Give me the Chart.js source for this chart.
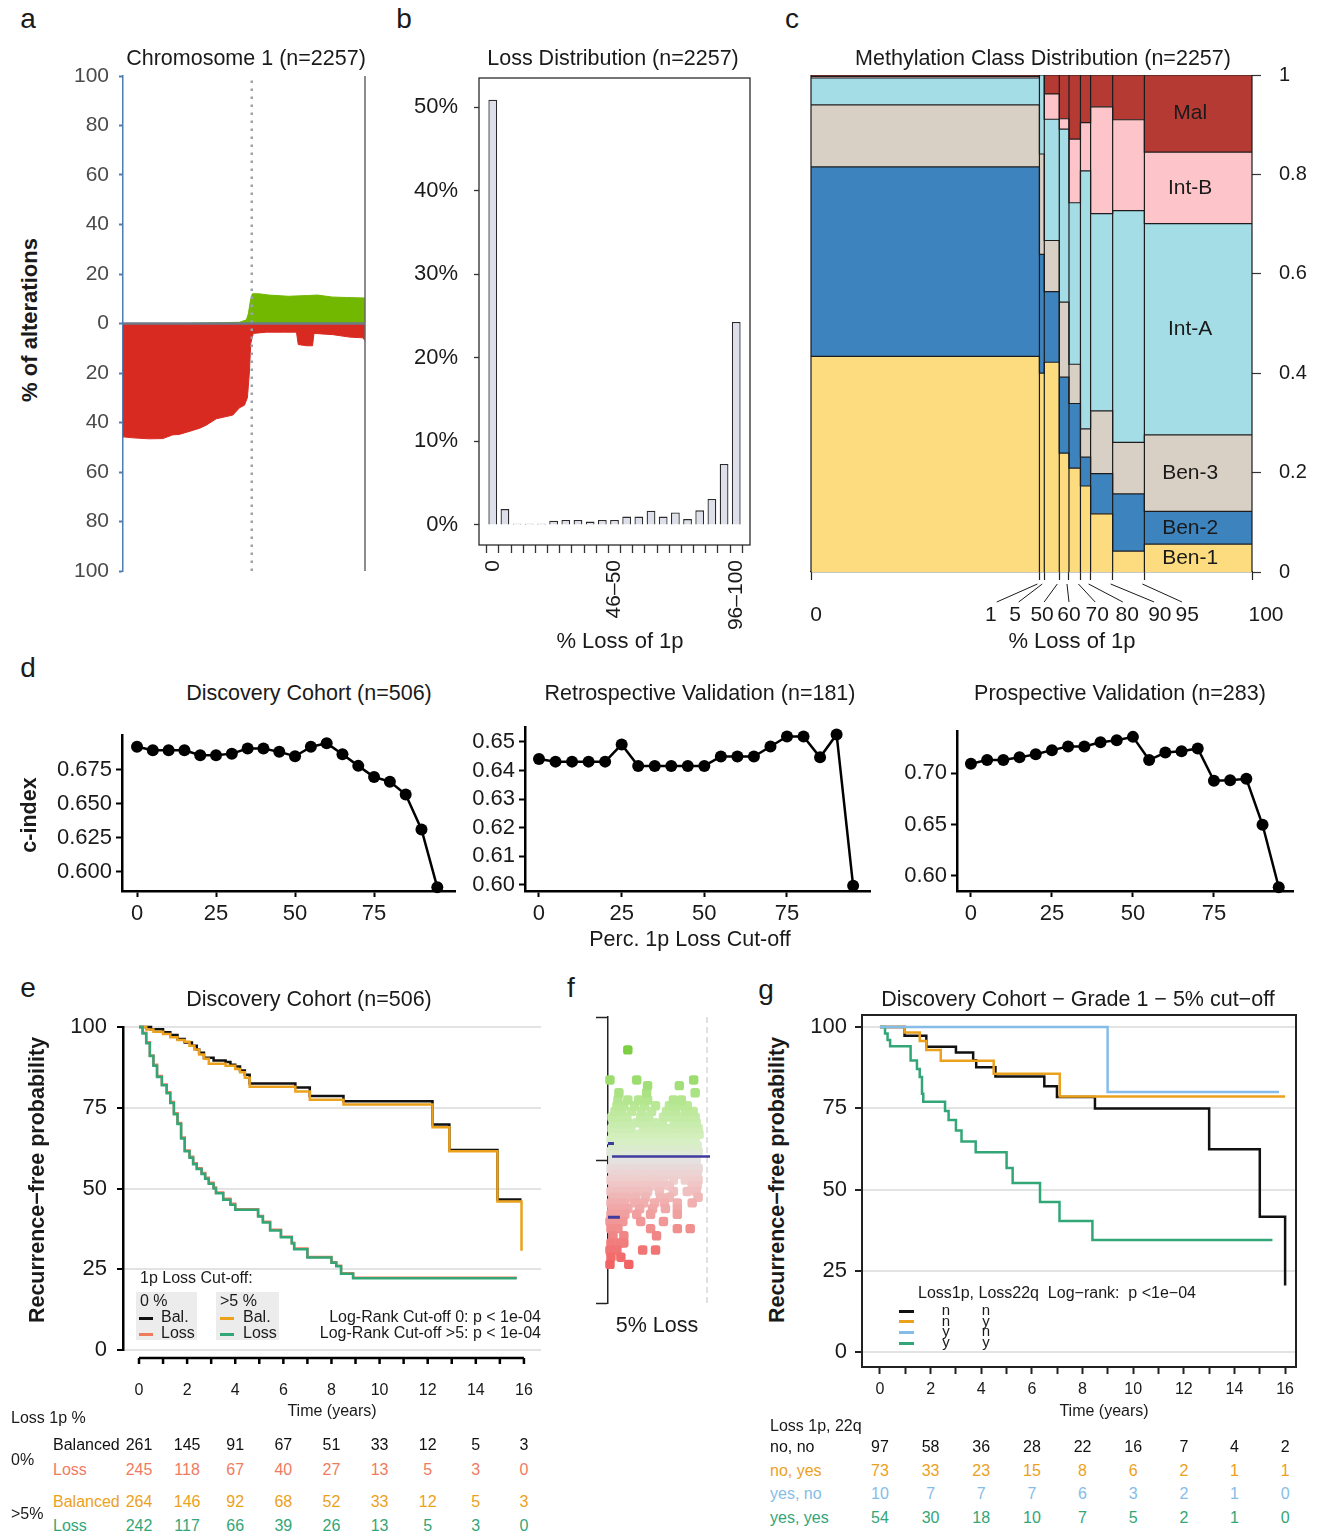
<!DOCTYPE html>
<html>
<head>
<meta charset="utf-8">
<script src="https://cdn.jsdelivr.net/npm/chart.js@4/dist/chart.umd.min.js"></script>
<style>
html, body { margin: 0; padding: 0; background: #fff; }
#fig { position: relative; width: 1322px; height: 1539px; overflow: hidden; background: #fff;
       font-family: "Liberation Sans", Arial, Helvetica, sans-serif; color: #1a1a1a; }
#fig canvas { position: absolute; }
.tx { position: absolute; white-space: pre; line-height: 1; }
.key { position: absolute; height: 3px; }
.shade { position: absolute; background: #ececec; }
</style>
</head>
<body>
<div id="fig"></div>
<script>
// ---- a: chromosome 1 alterations (% of samples), position in Mb
const chrLength = 249;
const centromere = 132.5;
const lossPos = [0, 10, 27, 41, 51, 58, 69, 79, 86, 96, 113, 120, 125, 128, 130, 131.5, 134, 148, 165, 178.5, 180.3, 189, 195, 196.5, 216, 233, 247, 249];
const lossPct = [45.8, 46.2, 46.6, 46.5, 45, 44.8, 43.5, 42.3, 41, 38.5, 37, 34, 33, 30, 20, 8, 4, 3.5, 3.5, 3.5, 8.5, 9, 9, 4, 4.5, 5.5, 5.8, 7];
const gainPos = [0, 60, 95, 120, 127, 129, 131, 133, 140, 150, 170, 190, 200, 215, 230, 249];
const gainPct = [0, 0, 0.3, 0.5, 1.5, 4, 9, 12, 12, 11.5, 11, 11.3, 11.5, 10.7, 10.5, 10.3];

// ---- b: loss distribution
const lossBins = ['0', '1–5', '6–10', '11–15', '16–20', '21–25', '26–30', '31–35', '36–40', '41–45', '46–50',
                  '51–55', '56–60', '61–65', '66–70', '71–75', '76–80', '81–85', '86–90', '91–95', '96–100'];
const lossShare = [50.9, 1.9, 0.15, 0.15, 0.15, 0.5, 0.6, 0.6, 0.4, 0.6, 0.6, 1.0, 1.0, 1.7, 1.0, 1.5, 0.7, 1.75, 3.1, 7.3, 24.3];

// ---- c: methylation class mosaic
const colShare = [51.8, 1.1, 3.4, 2.2, 2.6, 2.3, 5.0, 7.2, 24.4];
const cutLabels = ['1', '5', '50', '60', '70', '80', '90', '95'];
const classNames = ['Ben-1', 'Ben-2', 'Ben-3', 'Int-A', 'Int-B', 'Mal'];
const ben1 = [.434, .400, .422, .239, .209, .173, .117, .042, .056];
const ben2 = [.381, .239, .142, .153, .130, .058, .081, .115, .066];
const ben3 = [.125, .202, .103, .151, .079, .057, .126, .104, .154];
const intA = [.054, .159, .244, .348, .325, .519, .397, .466, .425];
const intB = [.003, 0, .051, .021, .128, .097, .215, .183, .144];
const mal  = [.003, 0, .038, .088, .129, .096, .064, .090, .155];

// ---- d: c-index by cut-off
const cutoffs = [0, 5, 10, 15, 20, 25, 30, 35, 40, 45, 50, 55, 60, 65, 70, 75, 80, 85, 90, 95];
const cDiscovery = [0.692, 0.6895, 0.6895, 0.6895, 0.6858, 0.6858, 0.687, 0.6907, 0.6907, 0.6883, 0.6851, 0.692, 0.6947, 0.6866, 0.678, 0.6698, 0.6664, 0.657, 0.6312, 0.5887];
const cRetro = [0.644, 0.6431, 0.6431, 0.6431, 0.6431, 0.6491, 0.6416, 0.6416, 0.6416, 0.6416, 0.6416, 0.6449, 0.6449, 0.6449, 0.6484, 0.6519, 0.6519, 0.6446, 0.6526, 0.5997];
const cProsp = [0.709, 0.7126, 0.7126, 0.7152, 0.7182, 0.7222, 0.7258, 0.7258, 0.7298, 0.7318, 0.7351, 0.7126, 0.7199, 0.7212, 0.7238, 0.6924, 0.693, 0.6944, 0.6497, 0.5891];

// ---- e: Kaplan-Meier, discovery cohort [years, %]
const eBal0 = [[0,100],[0.5,99.3],[1.0,98.4],[1.3,97.5],[1.6,96.3],[1.9,95.2],[2.2,94.2],[2.4,93],[2.5,92],[2.7,90.5],[3.1,89.6],[3.6,89.2],[3.8,88.3],[4.0,87.8],[4.2,86.5],[4.4,85.2],[4.6,82.5],[6.5,81.3],[7.1,78.6],[8.5,77],[12.2,69.8],[12.9,61.9],[14.9,46.6],[15.9,46.6]];
const eBal5 = [[0,100],[0.3,99.2],[0.6,98.5],[1.0,97.8],[1.3,96.8],[1.6,96],[1.9,95.4],[2.1,94.2],[2.3,93],[2.5,91.5],[2.7,90.2],[2.9,88.6],[3.6,88],[4.0,87],[4.2,86],[4.4,84.3],[4.6,81.5],[6.5,80],[7.1,77.5],[8.5,76],[12.2,69],[12.9,61.5],[14.9,46],[15.9,30.7]];
const eLoss0 = [[0,100],[0.15,98.2],[0.3,95.3],[0.45,91.2],[0.6,88.3],[0.75,84.8],[0.95,82.2],[1.15,79.8],[1.3,76.8],[1.45,73.3],[1.6,70.3],[1.75,65.8],[1.9,61.8],[2.1,59.8],[2.25,57.8],[2.4,56.3],[2.6,54.8],[2.75,53.3],[2.9,51.8],[3.1,50.3],[3.2,48.8],[3.5,46.8],[3.8,45.3],[4.0,43.6],[4.95,41.5],[5.15,39.7],[5.45,37.2],[5.9,35.1],[6.35,33.2],[6.45,31.4],[7.0,28.8],[8.0,27.2],[8.2,26.1],[8.4,23.8],[8.9,22.4],[15.7,22.4]];
const eLoss5 = [[0,100],[0.15,98],[0.3,95],[0.45,91],[0.6,88],[0.75,84.5],[0.95,82],[1.15,79.5],[1.3,76.5],[1.45,73],[1.6,70],[1.75,65.5],[1.9,61.5],[2.1,59.5],[2.25,57.5],[2.4,56],[2.6,54.5],[2.75,53],[2.9,51.5],[3.1,50],[3.2,48.5],[3.5,46.5],[3.8,45],[4.0,43.4],[4.95,41.3],[5.15,39.5],[5.45,37],[5.9,34.9],[6.35,33],[6.45,31.2],[7.0,28.6],[8.0,27],[8.2,25.9],[8.4,23.6],[8.9,22.2],[15.7,22.2]];
const riskTimes = [0, 2, 4, 6, 8, 10, 12, 14, 16];
const eRiskBal0 = [261, 145, 91, 67, 51, 33, 12, 5, 3];
const eRiskLoss0 = [245, 118, 67, 40, 27, 13, 5, 3, 0];
const eRiskBal5 = [264, 146, 92, 68, 52, 33, 12, 5, 3];
const eRiskLoss5 = [242, 117, 66, 39, 26, 13, 5, 3, 0];

// ---- f: 5% loss cloud, rows of [y, x...]
const fCloud = [
  [0.02, 0.05,0.11,0.18,0.24,0.31,0.37,0.44,0.50,0.57,0.63,0.70,0.76,0.83,0.89],
  [0.06, 0.03,0.09,0.15,0.22,0.28,0.35,0.41,0.48,0.54,0.61,0.67,0.74,0.80,0.87,0.91],
  [0.10, 0.05,0.12,0.18,0.25,0.31,0.38,0.44,0.51,0.58,0.64,0.70,0.77,0.84,0.90],
  [0.14, 0.03,0.08,0.15,0.21,0.28,0.35,0.42,0.48,0.55,0.61,0.68,0.74,0.81,0.88],
  [0.18, 0.05,0.11,0.18,0.25,0.32,0.39,0.46,0.53,0.60,0.66,0.72,0.79,0.86,0.92],
  [0.22, 0.04,0.10,0.17,0.23,0.36,0.43,0.51,0.58,0.65,0.71,0.77,0.85,0.91],
  [0.26, 0.06,0.13,0.20,0.29,0.38,0.47,0.55,0.67,0.74,0.82,0.89],
  [0.30, 0.04,0.11,0.19,0.33,0.41,0.56,0.63,0.72,0.80,0.88],
  [0.34, 0.07,0.14,0.24,0.34,0.44,0.59,0.68,0.78,0.86],
  [0.38, 0.09,0.16,0.27,0.37,0.48,0.62,0.71,0.80],
  [0.42, 0.10,0.20,0.31,0.40,0.66,0.74],
  [0.47, 0.11,0.39,0.88],
  [0.52, 0.40,0.72],
  [0.56, 0.02,0.29,0.865],
  [0.77, 0.20],
  [-0.02, 0.05,0.11,0.18,0.24,0.31,0.37,0.44,0.50,0.57,0.63,0.70,0.76,0.83,0.89],
  [-0.06, 0.03,0.09,0.15,0.22,0.28,0.35,0.41,0.48,0.54,0.61,0.67,0.74,0.80,0.87,0.91],
  [-0.10, 0.05,0.12,0.18,0.25,0.31,0.38,0.44,0.51,0.58,0.64,0.70,0.77,0.84,0.90],
  [-0.14, 0.03,0.08,0.15,0.21,0.28,0.35,0.42,0.48,0.56,0.66,0.78,0.86,0.91],
  [-0.18, 0.05,0.11,0.18,0.25,0.32,0.39,0.46,0.53,0.62,0.85,0.90],
  [-0.22, 0.03,0.10,0.17,0.24,0.31,0.40,0.52,0.66,0.80,0.89],
  [-0.26, 0.05,0.12,0.19,0.28,0.38,0.53,0.62,0.91],
  [-0.30, 0.03,0.10,0.17,0.27,0.36,0.47,0.57,0.70,0.85],
  [-0.34, 0.04,0.11,0.20,0.32,0.45,0.58,0.70],
  [-0.38, 0.03,0.09,0.17,0.29,0.43,0.70],
  [-0.43, 0.02,0.08,0.15,0.33,0.56],
  [-0.48, 0.03,0.10,0.43,0.70,0.83],
  [-0.53, 0.05,0.16,0.49],
  [-0.58, 0.03,0.12,0.16],
  [-0.63, 0.02,0.09,0.35,0.48],
  [-0.68, 0.03,0.13],
  [-0.73, 0.02,0.21]
];
const fMedian = 0.025;

// ---- g: Kaplan-Meier, grade 1 [years, %]
const gNN = [[0,100],[0.97,97.3],[1.83,93.9],[3.0,92.2],[3.68,89.8],[3.8,87.6],[4.56,84.8],[6.49,81.8],[6.99,78.5],[8.49,74.9],[13.0,62.4],[15.0,41.6],[16.0,20.5]];
const gNY = [[0,100],[0.97,98.3],[1.57,95.7],[1.83,92.9],[2.4,89.6],[4.49,85.6],[7.1,78.6],[16.0,78.6]];
const gYN = [[0,100],[8.99,80],[15.76,80]];
const gYY = [[0,100],[0.2,98],[0.3,96],[0.4,94.1],[1.21,89.7],[1.46,87.1],[1.57,84.6],[1.66,79.5],[1.71,77],[2.57,74.2],[2.71,71.4],[3.0,68.2],[3.22,64.8],[3.78,61.5],[5.0,56.6],[5.24,52],[6.32,46.2],[7.09,40.3],[8.39,34.5],[15.5,34.5]];
const gRiskNN = [97, 58, 36, 28, 22, 16, 7, 4, 2];
const gRiskNY = [73, 33, 23, 15, 8, 6, 2, 1, 1];
const gRiskYN = [10, 7, 7, 7, 6, 3, 2, 1, 0];
const gRiskYY = [54, 30, 18, 10, 7, 5, 2, 1, 0];

// ---------------------------------------------------------------
const root = document.getElementById('fig');
const FONT = '"Liberation Sans", Arial, Helvetica, sans-serif';
Chart.defaults.font.family = FONT;
Chart.defaults.color = '#1a1a1a';
Chart.defaults.animation = false;
Chart.defaults.responsive = false;
Chart.defaults.events = [];
Chart.defaults.plugins.legend.display = false;
Chart.defaults.plugins.tooltip.enabled = false;

const BLACK = '#111111', SALMON = '#ef7b5f', ORANGE = '#eca11c', GREEN = '#33a677', BLUE = '#86bde8';
const classColors = ['#fddc7f', '#3d83be', '#d9d0c5', '#a5dde7', '#fdc4c9', '#b53a34'];

function canvasAt(x, y, w, h) {
  const c = document.createElement('canvas');
  c.width = w; c.height = h;
  c.style.left = x + 'px'; c.style.top = y + 'px';
  root.appendChild(c);
  return c;
}
function txt(s, x, y, o = {}) {
  const d = document.createElement('div');
  d.className = 'tx';
  d.textContent = s;
  d.style.left = x + 'px';
  d.style.top = y + 'px';
  d.style.fontSize = (o.size || 21.5) + 'px';
  d.style.color = o.color || '#1a1a1a';
  if (o.bold) d.style.fontWeight = 'bold';
  const ax = o.align === 'left' ? '0' : o.align === 'right' ? '-100%' : '-50%';
  d.style.transform = `translate(${ax},-50%)` + (o.rot ? ` rotate(${o.rot}deg)` : '');
  root.appendChild(d);
}
function key(x, y, w, color) {
  const d = document.createElement('div');
  d.className = 'key';
  d.style.left = x + 'px'; d.style.top = (y - 1.5) + 'px';
  d.style.width = w + 'px'; d.style.background = color;
  root.appendChild(d);
}
function shade(x, y, w, h) {
  const d = document.createElement('div');
  d.className = 'shade';
  d.style.left = x + 'px'; d.style.top = y + 'px';
  d.style.width = w + 'px'; d.style.height = h + 'px';
  root.appendChild(d);
}
const fixW = w => s => { s.width = w; };
const fixH = h => s => { s.height = h; };
const setTicks = vals => s => { s.ticks = vals.map(v => ({ value: v })); };
const pts = (xs, ys) => xs.map((x, i) => ({ x, y: ys[i] }));

// box round the plot area
const frame = {
  id: 'frame',
  afterDraw(chart, args, o) {
    const { ctx, chartArea: a } = chart;
    ctx.save();
    ctx.strokeStyle = o.color || '#222';
    ctx.lineWidth = o.width || 1.5;
    ctx.strokeRect(a.left, a.top, a.right - a.left, a.bottom - a.top);
    ctx.restore();
  }
};

// ================= a =================
new Chart(canvasAt(60, 52, 320, 543), {
  type: 'line',
  data: {
    datasets: [
      { data: [{ x: 0, y: 0 }, { x: chrLength, y: 0 }], borderColor: '#6e7a88', borderWidth: 2.5, pointRadius: 0 },
      { data: [{ x: centromere, y: -100 }, { x: centromere, y: 100 }], borderColor: '#9aa3ab', borderWidth: 2.5, borderDash: [2.5, 5.5], pointRadius: 0 },
      { data: [{ x: chrLength, y: -100 }, { x: chrLength, y: 100 }], borderColor: '#666', borderWidth: 1.5, pointRadius: 0, clip: false },
      { data: pts(lossPos, lossPct.map(v => -v)), fill: 'origin', backgroundColor: '#d92a21', borderColor: '#d92a21', borderWidth: 1, pointRadius: 0 },
      { data: pts(gainPos, gainPct), fill: 'origin', backgroundColor: '#73b800', borderColor: '#73b800', borderWidth: 1, pointRadius: 0 }
    ]
  },
  options: {
    devicePixelRatio: 1,
    layout: { padding: { top: 24, right: 15, bottom: 24, left: 0 } },
    scales: {
      x: { type: 'linear', min: 0, max: chrLength, display: false },
      y: {
        min: -100, max: 100, afterFit: fixW(63),
        afterBuildTicks: setTicks([-100, -80, -60, -40, -20, 0, 20, 40, 60, 80, 100]),
        ticks: { callback: v => String(Math.abs(v)), color: '#4a4a4a', font: { size: 21 }, padding: 10 },
        grid: { drawOnChartArea: false, tickLength: 4, tickColor: '#4f7db3', tickWidth: 2 },
        border: { color: '#4f7db3', width: 1.5 }
      }
    }
  }
});

// ================= b =================
new Chart(canvasAt(395, 48, 375, 612), {
  type: 'bar',
  data: {
    datasets: [{
      data: lossShare.map((v, i) => ({ x: i, y: v })),
      backgroundColor: '#dde0ea', borderColor: '#2b2b2b', borderWidth: 1.3,
      barPercentage: 0.72, categoryPercentage: 1
    }]
  },
  options: {
    devicePixelRatio: 1,
    layout: { padding: { top: 30, right: 20, bottom: 0, left: 0 } },
    scales: {
      x: {
        type: 'linear', min: -0.6, max: 20.6, afterFit: fixH(115),
        afterBuildTicks: setTicks(lossBins.map((_, i) => i)),
        ticks: { autoSkip: false, minRotation: 90, maxRotation: 90, font: { size: 21 }, padding: 7,
                 callback: v => (v % 10 === 0 ? lossBins[v] : '') },
        grid: { drawOnChartArea: false, tickLength: 8, tickColor: '#333', tickWidth: 1.3 },
        border: { display: false }
      },
      y: {
        min: -2.4, max: 53.5, afterFit: fixW(84),
        afterBuildTicks: setTicks([0, 10, 20, 30, 40, 50]),
        ticks: { callback: v => v + '%', font: { size: 22 }, padding: 16 },
        grid: { drawOnChartArea: false, tickLength: 5, tickColor: '#333', tickWidth: 1.3 },
        border: { display: false }
      }
    },
    plugins: { frame: { color: '#2b2b2b', width: 1.3 } }
  },
  plugins: [frame]
});

// ================= c =================
const colLeft = [];
colShare.reduce((acc, w) => { colLeft.push(acc); return acc + w; }, 0);
const bounds = colLeft.slice(1);
const cutLabelAt = [40.8, 46.3, 52.4, 58.5, 64.9, 71.7, 79.1, 85.3];
const mosaic = [ben1, ben2, ben3, intA, intB, mal];
let cum = colShare.map(() => 0);
const classSets = mosaic.map((shares, k) => {
  cum = cum.map((c, j) => c + shares[j]);
  const d = colLeft.map((x, j) => ({ x, y: cum[j] }));
  d.push({ x: 100, y: cum[cum.length - 1] });
  return { data: d, stepped: true, fill: k === 0 ? 'origin' : '-1', backgroundColor: classColors[k],
           borderColor: '#1c1c1c', borderWidth: 1.2, pointRadius: 0 };
});
const sepData = [];
[0, ...bounds, 100].forEach(b => { sepData.push({ x: b, y: 0 }, { x: b, y: 1 }, { x: b, y: null }); });

const mosaicNotes = {
  id: 'mosaicNotes',
  afterDraw(chart) {
    const { ctx, chartArea: a, scales: { x, y } } = chart;
    ctx.save();
    ctx.font = '21px ' + FONT;
    ctx.fillStyle = '#1a1a1a';
    ctx.textAlign = 'center';
    ctx.textBaseline = 'middle';
    const last = colShare.length - 1;
    const cx = x.getPixelForValue(colLeft[last] + colShare[last] / 2) - 8;
    let base = 0;
    classNames.forEach((n, k) => {
      const v = mosaic[k][last];
      ctx.fillText(n, cx, y.getPixelForValue(base + v / 2));
      base += v;
    });
    // axis ends, labelled a little off their ticks as in the original
    ctx.fillText('0', x.getPixelForValue(0) + 5, a.bottom + 43);
    ctx.fillText('100', x.getPixelForValue(100) + 14, a.bottom + 43);
    ctx.strokeStyle = '#1a1a1a';
    ctx.lineWidth = 1;
    cutLabels.forEach((lab, i) => {
      const bx = x.getPixelForValue(bounds[i]);
      const lx = x.getPixelForValue(cutLabelAt[i]);
      ctx.beginPath();
      ctx.moveTo(bx - 2, a.bottom + 12);
      ctx.lineTo(lx + (bx - lx) * 0.12, a.bottom + 30);
      ctx.stroke();
      ctx.fillText(lab, lx, a.bottom + 43);
    });
    ctx.restore();
  }
};

new Chart(canvasAt(780, 44, 542, 616), {
  type: 'line',
  data: {
    datasets: [
      { data: sepData, borderColor: '#1c1c1c', borderWidth: 1.2, pointRadius: 0, spanGaps: false, clip: false },
      ...classSets
    ]
  },
  options: {
    devicePixelRatio: 1,
    layout: { padding: { top: 31, right: 0, bottom: 0, left: 31 } },
    scales: {
      x: {
        type: 'linear', min: 0, max: 100, afterFit: fixH(88),
        afterBuildTicks: setTicks([0, ...bounds, 100]),
        ticks: { autoSkip: false, maxRotation: 0, font: { size: 21 }, padding: 23, callback: () => '' },
        grid: { drawOnChartArea: false, tickLength: 8, tickColor: '#222', tickWidth: 1.2 },
        border: { color: '#1c1c1c', width: 1.2 }
      },
      y: {
        position: 'right', min: 0, max: 1, afterFit: fixW(70),
        afterBuildTicks: setTicks([0, 0.2, 0.4, 0.6, 0.8, 1]),
        ticks: { font: { size: 20 }, padding: 18, callback: v => (v === 0 || v === 1 ? String(v) : v.toFixed(1)) },
        grid: { drawOnChartArea: false, tickLength: 9, tickColor: '#333', tickWidth: 1.2 },
        border: { display: false }
      }
    }
  },
  plugins: [mosaicNotes]
});

// ================= d =================
function cindexChart(left, top, w, h, axisW, padRight, xMin, xMax, yMin, yMax, yTicks, digits, values) {
  return new Chart(canvasAt(left, top, w, h), {
    type: 'line',
    data: {
      datasets: [{ data: pts(cutoffs, values), borderColor: '#000', borderWidth: 2.5, pointRadius: 6,
                   pointBackgroundColor: '#000', pointBorderWidth: 0, clip: false }]
    },
    options: {
      devicePixelRatio: 1,
      layout: { padding: { top: 20, right: padRight, bottom: 0, left: 0 } },
      scales: {
        x: {
          type: 'linear', min: xMin, max: xMax, afterFit: fixH(39),
          afterBuildTicks: setTicks([0, 25, 50, 75]),
          ticks: { font: { size: 22 }, padding: 4, maxRotation: 0 },
          grid: { drawOnChartArea: false, tickLength: 6, tickColor: '#000', tickWidth: 2 },
          border: { color: '#000', width: 2.5 }
        },
        y: {
          min: yMin, max: yMax, afterFit: fixW(axisW),
          afterBuildTicks: setTicks(yTicks),
          ticks: { font: { size: 22 }, padding: 4, callback: v => v.toFixed(digits) },
          grid: { drawOnChartArea: false, tickLength: 6, tickColor: '#000', tickWidth: 2 },
          border: { color: '#000', width: 2.5 }
        }
      }
    }
  });
}
cindexChart(10, 715, 460, 215, 112, 15, -4.75, 100.6, 0.586, 0.7007, [0.6, 0.625, 0.65, 0.675], 3, cDiscovery);
cindexChart(420, 707, 460, 223, 105, 10, -4.23, 100.1, 0.5979, 0.6552, [0.6, 0.61, 0.62, 0.63, 0.64, 0.65], 2, cRetro);
cindexChart(870, 711, 440, 219, 87, 17, -4.3, 99.4, 0.5854, 0.7408, [0.6, 0.65, 0.7], 2, cProsp);

// ================= e =================
const km = (p, color) => ({ data: p.map(([x, y]) => ({ x, y })), borderColor: color, borderWidth: 2.5,
                            stepped: true, pointRadius: 0, fill: false, clip: 4 });
const yearMarks = [0, 1, 2, 3, 4, 5, 6, 7, 8, 9, 10, 11, 12, 13, 14, 15, 16];
const evenOnly = v => (v % 2 === 0 ? String(v) : '');

// separate time axis below the panel
const kmAxis = {
  id: 'kmAxis',
  afterDraw(chart) {
    const { ctx, chartArea: a, scales: { x } } = chart;
    const y0 = a.bottom + 8;
    ctx.save();
    ctx.strokeStyle = '#000';
    ctx.lineWidth = 2.5;
    ctx.beginPath();
    ctx.moveTo(x.getPixelForValue(yearMarks[0]), y0);
    ctx.lineTo(x.getPixelForValue(yearMarks[yearMarks.length - 1]), y0);
    yearMarks.forEach(t => { const px = x.getPixelForValue(t); ctx.moveTo(px, y0); ctx.lineTo(px, y0 + 6); });
    ctx.stroke();
    ctx.restore();
  }
};

const eLeft = 40;
const chartE = new Chart(canvasAt(eLeft, 1002, 510, 403), {
  type: 'line',
  data: { datasets: [km(eLoss5, GREEN), km(eBal5, ORANGE), km(eLoss0, SALMON), km(eBal0, BLACK)] },
  options: {
    devicePixelRatio: 1,
    layout: { padding: { top: 25, right: 9, bottom: 0, left: 0 } },
    scales: {
      x: {
        type: 'linear', min: -0.665, max: 16.71, afterFit: fixH(55),
        afterBuildTicks: setTicks(yearMarks),
        ticks: { autoSkip: false, maxRotation: 0, font: { size: 16 }, padding: 7, callback: evenOnly },
        grid: { drawOnChartArea: false, drawTicks: true, tickLength: 24, tickColor: 'rgba(0,0,0,0)' },
        border: { display: false }
      },
      y: {
        min: 0, max: 100, afterFit: fixW(83),
        afterBuildTicks: setTicks([0, 25, 50, 75, 100]),
        ticks: { font: { size: 22 }, padding: 10 },
        grid: { color: '#e3e3e3', lineWidth: 2, tickLength: 6, tickColor: '#000', tickWidth: 2 },
        border: { color: '#000', width: 2.5 }
      }
    }
  },
  plugins: [kmAxis]
});

// ================= f =================
function cloudColor(v) {
  const stops = v >= 0
    ? [[0, [228, 228, 228]], [0.15, [214, 240, 194]], [0.4, [182, 231, 146]], [0.8, [120, 205, 60]]]
    : [[0, [228, 228, 228]], [0.15, [240, 204, 204]], [0.4, [241, 156, 156]], [0.75, [242, 96, 96]]];
  const a = Math.abs(v);
  for (let i = 1; i < stops.length; i++) {
    if (a <= stops[i][0] || i === stops.length - 1) {
      const [p0, c0] = stops[i - 1], [p1, c1] = stops[i];
      const t = Math.min(1, (a - p0) / (p1 - p0));
      return 'rgb(' + c0.map((c, k) => Math.round(c + (c1[k] - c) * t)).join(',') + ')';
    }
  }
}
const fPoints = [];
fCloud.forEach(([y, ...xs]) => xs.forEach(x => fPoints.push({ x, y })));

new Chart(canvasAt(590, 1005, 130, 310), {
  type: 'scatter',
  data: {
    datasets: [
      { data: [{ x: 0.04, y: fMedian }, { x: 1.03, y: fMedian }], showLine: true, borderColor: '#3f3a9e', borderWidth: 2.5, pointRadius: 0, clip: false },
      { data: [{ x: 0, y: 0.115 }, { x: 0.06, y: 0.115 }, { x: null, y: null }, { x: 0, y: -0.4 }, { x: 0.12, y: -0.4 }],
        showLine: true, spanGaps: false, borderColor: '#3f3a9e', borderWidth: 3, pointRadius: 0, clip: false },
      { data: [{ x: 1, y: -1 }, { x: 1, y: 1 }], showLine: true, borderColor: '#d8d8d8', borderWidth: 1.5, borderDash: [6, 4], pointRadius: 0 },
      { data: fPoints, pointStyle: 'rectRounded', pointRadius: 5.5, pointBorderWidth: 0,
        pointBackgroundColor: c => cloudColor(c.raw ? c.raw.y : 0), clip: false }
    ]
  },
  options: {
    devicePixelRatio: 1,
    layout: { padding: { top: 12, right: 8, bottom: 12, left: 0 } },
    scales: {
      x: { type: 'linear', min: 0, max: 1.05, display: false },
      y: {
        min: -1, max: 1, afterFit: fixW(18),
        afterBuildTicks: setTicks([-1, 0, 1]),
        ticks: { display: false },
        grid: { drawOnChartArea: false, tickLength: 12, tickColor: '#222', tickWidth: 1.5 },
        border: { color: '#222', width: 1.5 }
      }
    }
  }
});

// ================= g =================
const gLeft = 790;
const chartG = new Chart(canvasAt(gLeft, 992, 520, 413), {
  type: 'line',
  data: { datasets: [km(gYN, BLUE), km(gYY, GREEN), km(gNY, ORANGE), km(gNN, BLACK)] },
  options: {
    devicePixelRatio: 1,
    layout: { padding: { top: 23, right: 14, bottom: 0, left: 0 } },
    scales: {
      x: {
        type: 'linear', min: -0.71, max: 16.43, afterFit: fixH(38),
        afterBuildTicks: setTicks(yearMarks),
        ticks: { autoSkip: false, maxRotation: 0, font: { size: 16 }, padding: 6, callback: evenOnly },
        grid: { drawOnChartArea: false, tickLength: 7, tickColor: '#222', tickWidth: 2 },
        border: { display: false }
      },
      y: {
        min: -4.6, max: 103.7, afterFit: fixW(72),
        afterBuildTicks: setTicks([0, 25, 50, 75, 100]),
        ticks: { font: { size: 22 }, padding: 8 },
        grid: { color: '#e3e3e3', lineWidth: 2, tickLength: 7, tickColor: '#222', tickWidth: 2 },
        border: { display: false }
      }
    },
    plugins: { frame: { color: '#222', width: 2 } }
  },
  plugins: [frame]
});

// ================= text =================
[['a', 28, 19], ['b', 404, 19], ['c', 792, 19], ['d', 28, 668], ['e', 28, 988], ['f', 571, 988], ['g', 766, 990]]
  .forEach(([s, x, y]) => txt(s, x, y, { size: 28 }));

txt('Chromosome 1 (n=2257)', 246, 59);
txt('% of alterations', 30, 320, { bold: true, rot: -90, size: 22 });
txt('Loss Distribution (n=2257)', 613, 59);
txt('% Loss of 1p', 620, 641, { size: 22 });
txt('Methylation Class Distribution (n=2257)', 1043, 59);
txt('% Loss of 1p', 1072, 641, { size: 22 });

txt('Discovery Cohort (n=506)', 309, 694);
txt('Retrospective Validation (n=181)', 700, 694);
txt('Prospective Validation (n=283)', 1120, 694);
txt('c-index', 30, 815, { bold: true, rot: -90 });
txt('Perc. 1p Loss Cut-off', 690, 940);

// e
txt('Discovery Cohort (n=506)', 309, 1000);
txt('Recurrence−free probability', 38, 1180, { bold: true, rot: -90 });
txt('Time (years)', 332, 1411, { size: 16 });
txt('1p Loss Cut-off:', 140, 1278, { size: 16, align: 'left' });
shade(136, 1292, 61, 48);
shade(216, 1292, 63, 48);
txt('0 %', 140, 1301, { size: 16, align: 'left' });
key(139, 1318, 14, BLACK); txt('Bal.', 161, 1317, { size: 16, align: 'left' });
key(139, 1334, 14, SALMON); txt('Loss', 161, 1333, { size: 16, align: 'left' });
txt('>5 %', 220, 1301, { size: 16, align: 'left' });
key(220, 1318, 14, ORANGE); txt('Bal.', 243, 1317, { size: 16, align: 'left' });
key(220, 1334, 14, GREEN); txt('Loss', 243, 1333, { size: 16, align: 'left' });
txt('Log-Rank Cut-off 0: p < 1e-04', 541, 1317, { size: 16, align: 'right' });
txt('Log-Rank Cut-off >5: p < 1e-04', 541, 1333, { size: 16, align: 'right' });

// e risk table
txt('Loss 1p %', 11, 1418, { size: 16, align: 'left' });
txt('0%', 11, 1460, { size: 16, align: 'left' });
txt('>5%', 11, 1514, { size: 16, align: 'left' });
const eRows = [['Balanced', eRiskBal0, 1445, BLACK], ['Loss', eRiskLoss0, 1470, SALMON],
               ['Balanced', eRiskBal5, 1502, ORANGE], ['Loss', eRiskLoss5, 1526, GREEN]];
eRows.forEach(([name, counts, y, color]) => {
  txt(name, 53, y, { size: 16, align: 'left', color });
  riskTimes.forEach((t, i) => txt(String(counts[i]), eLeft + chartE.scales.x.getPixelForValue(t), y, { size: 16, color }));
});

// f
txt('5% Loss', 657, 1326);

// g
txt('Discovery Cohort − Grade 1 − 5% cut−off', 1078, 1000);
txt('Recurrence−free probability', 778, 1180, { bold: true, rot: -90 });
txt('Time (years)', 1104, 1411, { size: 16 });
txt('Loss1p, Loss22q  Log−rank:  p <1e−04', 918, 1293, { size: 16, align: 'left' });
const gLegend = [[BLACK, 'n', 'n'], [ORANGE, 'n', 'y'], [BLUE, 'y', 'n'], [GREEN, 'y', 'y']];
gLegend.forEach(([color, a, b], i) => {
  const y = 1311 + i * 10.7;
  key(899, y, 15, color);
  txt(a, 946, y - 2, { size: 15 });
  txt(b, 986, y - 2, { size: 15 });
});
txt('Loss 1p, 22q', 770, 1426, { size: 16, align: 'left' });
const gRows = [['no, no', gRiskNN, 1447, BLACK], ['no, yes', gRiskNY, 1471, ORANGE],
               ['yes, no', gRiskYN, 1494, BLUE], ['yes, yes', gRiskYY, 1518, GREEN]];
gRows.forEach(([name, counts, y, color]) => {
  txt(name, 770, y, { size: 16, align: 'left', color });
  riskTimes.forEach((t, i) => txt(String(counts[i]), gLeft + chartG.scales.x.getPixelForValue(t), y, { size: 16, color }));
});
</script>
</body>
</html>
